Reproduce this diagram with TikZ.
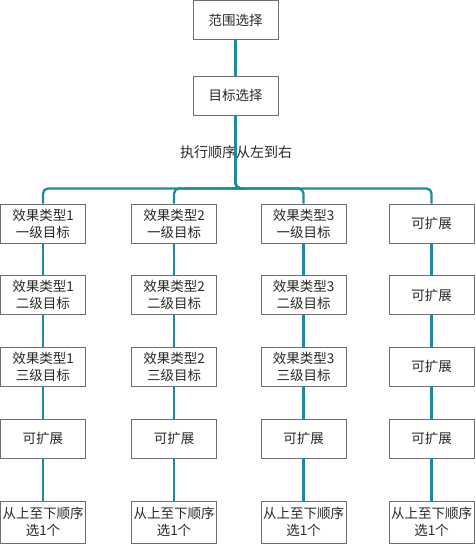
\documentclass[tikz,border=0pt]{standalone}
\usepackage{fontspec}
\setmainfont{Noto Sans CJK SC}
\definecolor{linkc}{RGB}{30,138,162}
\definecolor{boxc}{RGB}{110,110,110}
\definecolor{txtc}{RGB}{40,40,40}
\tikzset{
  box/.style={draw=boxc, line width=0.9pt, minimum width=85pt, minimum height=39pt, inner sep=0pt, align=center, text=txtc, font=\fontsize{13.5}{17}\selectfont},
  link/.style={draw=linkc, line width=2.3pt, rounded corners=5pt},
  lbl/.style={text=txtc, font=\fontsize{14}{17}\selectfont, inner sep=0pt}
}
\begin{document}
\begin{tikzpicture}[x=1pt,y=-1pt]
\useasboundingbox (0,0) rectangle (475,544);
% top
\node[box] (top) at (235.5,20) {范围选择};
\node[box] (tgt) at (235.5,95.5) {目标选择};
\node[lbl] (order) at (236,152) {执行顺序从左到右};
% column 1
\node[box] (a1) at (43,223.5) {效果类型1\\一级目标};
\node[box] (a2) at (43,295) {效果类型1\\二级目标};
\node[box] (a3) at (43,366.5) {效果类型1\\三级目标};
\node[box] (a4) at (43,438.5) {可扩展};
\node[box, minimum height=42pt] (a5) at (43,522) {从上至下顺序\\选1个};
% column 2
\node[box] (b1) at (174,223.5) {效果类型2\\一级目标};
\node[box] (b2) at (174,295) {效果类型2\\二级目标};
\node[box] (b3) at (174,366.5) {效果类型2\\三级目标};
\node[box] (b4) at (174,438.5) {可扩展};
\node[box, minimum height=42pt] (b5) at (174,522) {从上至下顺序\\选1个};
% column 3
\node[box] (c1) at (303.5,223.5) {效果类型3\\一级目标};
\node[box] (c2) at (303.5,295) {效果类型3\\二级目标};
\node[box] (c3) at (303.5,366.5) {效果类型3\\三级目标};
\node[box] (c4) at (303.5,438.5) {可扩展};
\node[box, minimum height=42pt] (c5) at (303.5,522) {从上至下顺序\\选1个};
% column 4
\node[box] (d1) at (431.5,223.5) {可扩展};
\node[box] (d2) at (431.5,295) {可扩展};
\node[box] (d3) at (431.5,366.5) {可扩展};
\node[box] (d4) at (431.5,438.5) {可扩展};
\node[box, minimum height=42pt] (d5) at (431.5,522) {从上至下顺序\\选1个};
% links
\path[link] (top.south) -- (tgt.north);
\foreach \c in {a,b,c,d}{
  \path[link] (tgt.south) |- (236,188.5) -| (\c1.north);
  \path[link] (\c1.south) -- (\c2.north);
  \path[link] (\c2.south) -- (\c3.north);
  \path[link] (\c3.south) -- (\c4.north);
  \path[link] (\c4.south) -- (\c5.north);
}
\end{tikzpicture}
\end{document}
